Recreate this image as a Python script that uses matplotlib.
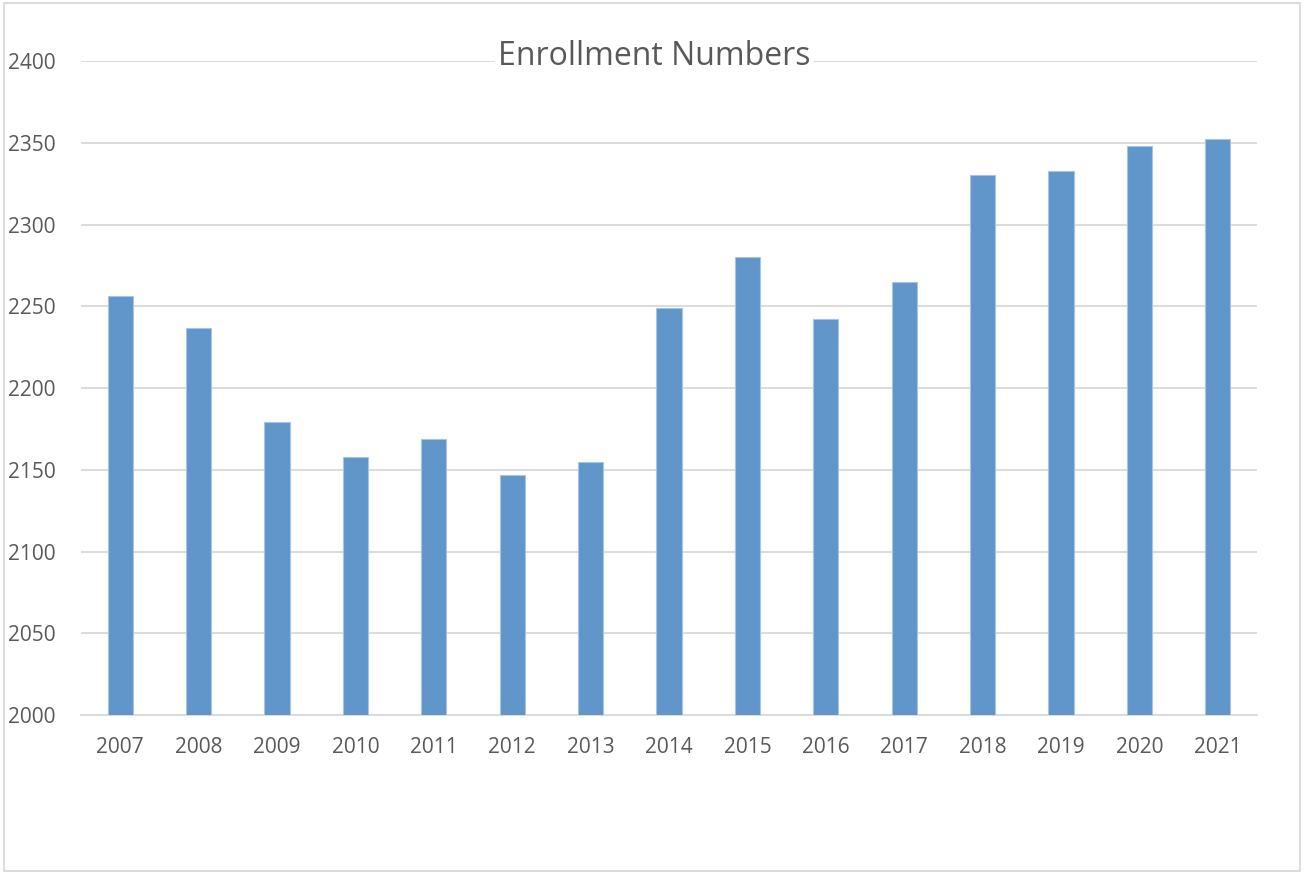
import matplotlib.pyplot as plt
from matplotlib.patches import Rectangle

years = ['2007', '2008', '2009', '2010', '2011', '2012', '2013', '2014',
         '2015', '2016', '2017', '2018', '2019', '2020', '2021']
enrollment = [2256, 2237, 2179, 2158, 2169, 2147, 2155, 2249,
              2280, 2242, 2265, 2330, 2333, 2348, 2352]

plt.rcParams['font.family'] = ['Open Sans', 'DejaVu Sans']

fig = plt.figure(figsize=(13.04, 8.74), dpi=100)
ax = fig.add_axes([0.0621, 0.1819, 0.9019, 0.7483])

ax.bar(range(len(years)), enrollment, width=0.32, color='#6096c9',
       edgecolor='#a9c4e2', linewidth=0.8, zorder=3)

ax.set_xlim(-0.5, len(years) - 0.5)
ax.set_ylim(2000, 2400)
ax.set_yticks(range(2000, 2401, 50))
ax.set_xticks(range(len(years)))
ax.set_xticklabels(years)

ax.grid(axis='y', color='#d9d9d9', linewidth=1.3, zorder=0)
for s in ['top', 'right', 'left']:
    ax.spines[s].set_visible(False)
ax.spines['bottom'].set_color('#d9d9d9')
ax.spines['bottom'].set_linewidth(1.3)
ax.tick_params(axis='both', length=0, labelsize=15, labelcolor='#595959')
ax.tick_params(axis='y', pad=18)
ax.tick_params(axis='x', pad=16)

fig.text(0.5015, 0.935, 'Enrollment Numbers', ha='center', va='center',
         fontsize=23, color='#595959',
         bbox=dict(facecolor='white', edgecolor='none', pad=2), zorder=5)

# light border round the chart area
fig.patches.append(Rectangle((0.003, 0.004), 0.994, 0.992, transform=fig.transFigure,
                             fill=False, edgecolor='#d9d9d9', linewidth=1.3))

fig.savefig('out.png', dpi=100)
